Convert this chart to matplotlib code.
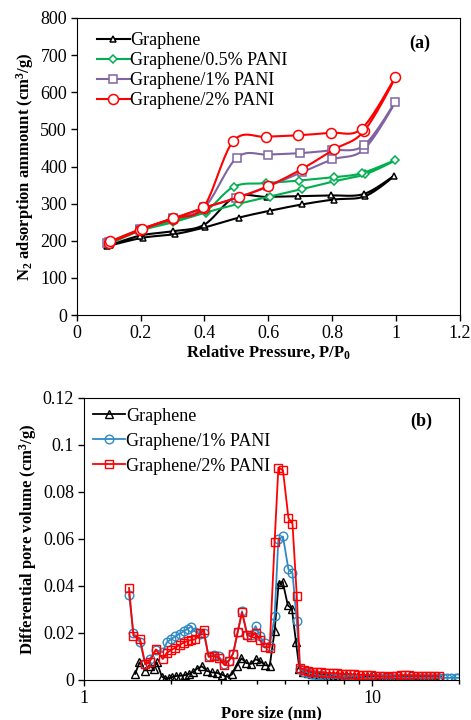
import numpy as np
import matplotlib
matplotlib.use('Agg')
from matplotlib import pyplot as plt
from matplotlib.ticker import FixedLocator, NullFormatter, FuncFormatter

plt.rcParams['font.family'] = ['Liberation Serif', 'DejaVu Serif']
plt.rcParams['mathtext.fontset'] = 'custom'
plt.rcParams['mathtext.rm'] = 'Liberation Serif'
plt.rcParams['mathtext.bf'] = 'Liberation Serif:bold'
plt.rcParams['mathtext.it'] = 'Liberation Serif:italic'

# ---- (a) N2 isotherms: adsorption branch then desorption branch ----
p_graphene = [0.094, 0.206, 0.308, 0.401, 0.507, 0.606, 0.707, 0.805, 0.904, 0.993,
              0.900, 0.796, 0.692, 0.596, 0.496, 0.399, 0.303, 0.199, 0.104]
v_graphene = [185, 208, 218, 236, 262, 281, 298, 311, 320, 374,
              326, 322, 320, 318, 318, 243, 226, 214, 188]

p_pani05 = [0.099, 0.199, 0.303, 0.404, 0.505, 0.604, 0.705, 0.805, 0.904, 0.998,
            0.893, 0.805, 0.695, 0.592, 0.493, 0.404, 0.303, 0.199, 0.104]
v_pani05 = [190, 227, 250, 276, 299, 319, 339, 360, 379, 417,
            382, 371, 362, 355, 346, 281, 255, 230, 195]

p_pani1 = [0.096, 0.199, 0.300, 0.400, 0.500, 0.600, 0.707, 0.801, 0.900, 0.998,
           0.900, 0.801, 0.700, 0.600, 0.502, 0.400, 0.300, 0.199, 0.100]
v_pani1 = [194, 229, 259, 289, 315, 347, 385, 419, 446, 574,
           457, 444, 436, 432, 424, 290, 260, 231, 196]

p_pani2 = [0.100, 0.199, 0.300, 0.400, 0.507, 0.600, 0.707, 0.806, 0.900, 0.998,
           0.893, 0.796, 0.692, 0.592, 0.491, 0.397, 0.303, 0.204, 0.104]
v_pani2 = [194, 229, 259, 289, 317, 347, 394, 446, 495, 640,
           502, 491, 484, 480, 469, 290, 261, 232, 198]

# ---- (b) pore size distribution ----
size_rb = [1.435, 1.486, 1.567, 1.633, 1.690, 1.778, 1.879, 1.941, 2.004, 2.075,
           2.148, 2.218, 2.291, 2.355, 2.438, 2.535, 2.606, 2.710, 2.825, 2.938,
           3.076, 3.184, 3.296, 3.420, 3.540, 3.690, 3.811, 3.945, 4.083, 4.236,
           4.416, 4.592, 4.732, 4.909, 5.129, 5.297, 5.483, 5.623, 5.808, 6.012,
           6.209, 6.427, 6.637]
dv_pani2_main = [0.0391, 0.0188, 0.0176, 0.0066, 0.0076, 0.0130, 0.0089, 0.0116, 0.0126, 0.0137,
                 0.0149, 0.0158, 0.0166, 0.0170, 0.0173, 0.0198, 0.0212, 0.0098, 0.0102, 0.0095,
                 0.0063, 0.0082, 0.0112, 0.0204, 0.0287, 0.0192, 0.0183, 0.0200, 0.0170, 0.0140,
                 0.0138, 0.0586, 0.0903, 0.0892, 0.0688, 0.0665, 0.0358, 0.0052, 0.0044, 0.0038,
                 0.0035, 0.0033, 0.0032]
dv_pani1_main = [0.0363, 0.0200, 0.0160, 0.0068, 0.0088, 0.0128, 0.0118, 0.0160, 0.0173, 0.0185,
                 0.0196, 0.0207, 0.0217, 0.0227, 0.0205, 0.0196, 0.0200, 0.0102, 0.0108, 0.0100,
                 0.0070, 0.0080, 0.0112, 0.0206, 0.0292, 0.0190, 0.0191, 0.0229, 0.0186, 0.0156,
                 0.0145, 0.0270, 0.0598, 0.0610, 0.0470, 0.0455, 0.0250, 0.0045, 0.0036, 0.0030,
                 0.0026, 0.0022, 0.0019]

size_g = [1.507, 1.560, 1.633, 1.690, 1.746, 1.791, 1.866, 1.914, 1.968, 2.023,
          2.094, 2.163, 2.239, 2.312, 2.388, 2.472, 2.570, 2.679, 2.786, 2.904,
          3.020, 3.148, 3.266, 3.388, 3.524, 3.664, 3.802, 3.945, 4.093, 4.246,
          4.416, 4.592, 4.742, 4.898, 5.105, 5.272, 5.445, 5.598, 5.781, 5.984,
          6.194, 6.397, 6.637]
dv_graphene_main = [0.0026, 0.0075, 0.0040, 0.0061, 0.0047, 0.0075, 0.0014, 0.0006, 0.0007, 0.0012,
                    0.0017, 0.0018, 0.0020, 0.0025, 0.0033, 0.0048, 0.0058, 0.0038, 0.0032, 0.0030,
                    0.0022, 0.0013, 0.0024, 0.0058, 0.0092, 0.0072, 0.0068, 0.0088, 0.0080, 0.0063,
                    0.0060, 0.0208, 0.0410, 0.0418, 0.0317, 0.0303, 0.0163, 0.0048, 0.0035, 0.0030,
                    0.0027, 0.0025, 0.0024]

size_tail = [6.855, 7.096, 7.345, 7.586, 7.852, 8.128, 8.395, 8.690, 8.974, 9.290,
             9.616, 9.931, 10.28, 10.64, 10.99, 11.38, 11.75, 12.16, 12.59, 13.00,
             13.46, 13.90, 14.39, 14.89, 15.38, 15.92, 16.44, 17.02, 17.58, 18.20,
             18.84, 19.50, 19.95]
dv_pani2_tail = [0.0031, 0.0030, 0.0029, 0.0028, 0.0027, 0.0026, 0.0025, 0.0024, 0.0023, 0.0022,
                 0.0021, 0.0019, 0.0018, 0.0016, 0.0015, 0.0014, 0.0015, 0.0017, 0.0019, 0.0020,
                 0.0019, 0.0018, 0.0018, 0.0018, 0.0017, 0.0017, 0.0017, 0.0017]
dv_pani1_tail = [0.0017, 0.0014, 0.0010, 0.0008, 0.0006, 0.0005, 0.0005, 0.0005, 0.0006, 0.0007,
                 0.0008, 0.0009, 0.0010, 0.0010, 0.0010, 0.0010, 0.0010, 0.0010, 0.0010, 0.0010,
                 0.0010, 0.0010, 0.0009, 0.0009, 0.0009, 0.0009, 0.0009, 0.0009, 0.0009, 0.0009,
                 0.0009, 0.0009, 0.0009]
dv_graphene_tail = [0.0023, 0.0022, 0.0021, 0.0020, 0.0019, 0.0019, 0.0018, 0.0017, 0.0017, 0.0016,
                    0.0016, 0.0015, 0.0015, 0.0014, 0.0014, 0.0013, 0.0013, 0.0013, 0.0013, 0.0013,
                    0.0012, 0.0012, 0.0012, 0.0012, 0.0012, 0.0012, 0.0012, 0.0012]


def smooth_path(x, y, sx, sy, n=20):
    # Catmull-Rom through the points, in screen-like units so the curve looks like Excel's
    u = np.asarray(x) * sx
    v = np.asarray(y) * sy
    pts = np.column_stack([u, v])
    pts = np.vstack([pts[0], pts, pts[-1]])
    out = []
    t = np.linspace(0, 1, n, endpoint=False)[:, None]
    for i in range(1, len(pts) - 2):
        p0, p1, p2, p3 = pts[i - 1], pts[i], pts[i + 1], pts[i + 2]
        b1 = p1 + (p2 - p0) / 6
        b2 = p2 - (p3 - p1) / 6
        seg = ((1 - t) ** 3) * p1 + 3 * ((1 - t) ** 2) * t * b1 + 3 * (1 - t) * t ** 2 * b2 + t ** 3 * p2
        out.append(seg)
    out.append(pts[-2][None, :])
    out = np.vstack(out)
    return out[:, 0] / sx, out[:, 1] / sy


fig = plt.figure(figsize=(4.71, 7.2), dpi=100)

# ---------- panel (a) ----------
ax1 = fig.add_axes([0.163, 0.5625, 0.813, 0.4125])
series_a = [
    (p_graphene, v_graphene, 'Graphene', 'black', '^', 5.0),
    (p_pani05, v_pani05, 'Graphene/0.5% PANI', '#00B050', 'D', 4.3),
    (p_pani1, v_pani1, 'Graphene/1% PANI', '#8064A2', 's', 6.0),
    (p_pani2, v_pani2, 'Graphene/2% PANI', '#FF0000', 'o', 7.2),
]
for px, vy, label, col, mk, ms in series_a:
    xs, ys = smooth_path(px, vy, 383 / 1.2, 297 / 800)
    ax1.plot(xs, ys, color=col, lw=1.5)
    ax1.plot(px, vy, linestyle='none', marker=mk, ms=ms, mfc='white', mec=col, mew=1.1)
    ax1.plot([], [], color=col, lw=1.5, marker=mk, ms=ms, mfc='white', mec=col, mew=1.1, label=label)

ax1.set_xlim(0, 1.2)
ax1.set_ylim(0, 800)
ax1.set_xticks(np.arange(0, 1.21, 0.2))
ax1.set_yticks(np.arange(0, 801, 100))
ax1.xaxis.set_major_formatter(FuncFormatter(lambda v, p: '%g' % round(v, 1)))
ax1.tick_params(direction='out', length=4, labelsize=13, width=1, pad=3)
ax1.set_xlabel(r'Relative Pressure, P/P$\mathbf{_0}$', fontsize=12, fontweight='bold', labelpad=1)
ax1.set_ylabel(r'N$\mathbf{_2}$ adsorption ammount (cm$\mathbf{^3}$/g)', fontsize=12,
               fontweight='bold', labelpad=3)
ax1.text(0.895, 0.915, '(a)', transform=ax1.transAxes, fontsize=13, fontweight='bold',
         ha='center', va='center')
ax1.legend(loc='upper left', bbox_to_anchor=(0.02, 0.995), frameon=False, fontsize=13,
           handlelength=1.8, handletextpad=0.05, labelspacing=0.17, borderaxespad=0.3)

# ---------- panel (b) ----------
ax2 = fig.add_axes([0.178, 0.0556, 0.796, 0.392])
series_b = [
    (size_g + size_tail[:len(dv_graphene_tail)], dv_graphene_main + dv_graphene_tail,
     'Graphene', 'black', '^', 5.2),
    (size_rb + size_tail[:len(dv_pani1_tail)], dv_pani1_main + dv_pani1_tail,
     'Graphene/1% PANI', '#2F8AC4', 'o', 6.2),
    (size_rb + size_tail[:len(dv_pani2_tail)], dv_pani2_main + dv_pani2_tail,
     'Graphene/2% PANI', '#FF0000', 's', 5.6),
]
for sx_, dv, label, col, mk, ms in series_b:
    ax2.plot(sx_, dv, color=col, lw=1.3, marker=mk, ms=ms, mfc='none', mec=col, mew=1.0,
             label=label)

ax2.set_xscale('log')
ax2.set_xlim(1, 20)
ax2.set_ylim(0, 0.12)
ax2.xaxis.set_major_locator(FixedLocator([1, 10]))
ax2.xaxis.set_minor_locator(FixedLocator([2, 3, 4, 5, 6, 7, 8, 9, 20]))
ax2.xaxis.set_minor_formatter(NullFormatter())
ax2.xaxis.set_major_formatter(FuncFormatter(lambda v, p: '%g' % v))
ax2.set_yticks(np.arange(0, 0.121, 0.02))
ax2.yaxis.set_major_formatter(FuncFormatter(lambda v, p: '%g' % round(v, 2)))
ax2.tick_params(which='both', direction='out', labelsize=13, width=1)
ax2.tick_params(axis='y', pad=3)
ax2.tick_params(axis='x', which='both', pad=3)
ax2.tick_params(which='major', length=4)
ax2.tick_params(which='minor', length=3)
ax2.set_xlabel('Pore size (nm)', fontsize=12, fontweight='bold', labelpad=-1)
ax2.set_ylabel(r'Differential pore volume (cm$\mathbf{^3}$/g)', fontsize=12,
               fontweight='bold', labelpad=3)
ax2.text(0.90, 0.915, '(b)', transform=ax2.transAxes, fontsize=13, fontweight='bold',
         ha='center', va='center')
ax2.legend(loc='upper left', bbox_to_anchor=(-0.01, 1.01), frameon=False, fontsize=13,
           handlelength=1.8, handletextpad=0.05, labelspacing=0.45, borderaxespad=0.3)

fig.savefig('out.png', dpi=100, facecolor='white')
